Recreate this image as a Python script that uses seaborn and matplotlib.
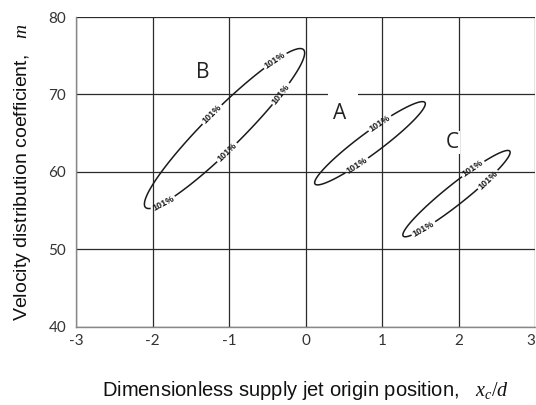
import numpy as np
import matplotlib
matplotlib.use("Agg")
import matplotlib.pyplot as plt
from matplotlib.patches import Rectangle
import seaborn as sns

# ellipse regions (101% contour) in (x_c/d, m)
region_names = ['A', 'B', 'C']
centre_x = [0.84, -1.06, 1.97]
centre_m = [63.7, 65.6, 57.2]
half_length = [0.89, 1.45, 0.886]
half_width = [0.14, 0.245, 0.13]
tilt_deg = [36.2, 44.6, 38.2]

# where the region letters sit
name_x = [0.44, -1.34, 1.91]
name_m = [67.6, 72.9, 63.8]

# where the "101%" labels sit on each contour
label_pos = {
    'A': [(0.94, 66.7), (0.68, 60.65)],
    'B': [(-0.38, 74.1), (-0.30, 69.9), (-1.19, 67.1), (-1.02, 62.45), (-1.87, 56.1)],
    'C': [(2.18, 60.5), (2.38, 59.0), (1.55, 52.5)],
}
contour_text = '101%'

x_ticks = [-3, -2, -1, 0, 1, 2, 3]
m_ticks = [40, 50, 60, 70, 80]

sns.set_theme(style="white")
plt.rcParams['font.family'] = ['Liberation Sans', 'DejaVu Sans']
plt.rcParams['mathtext.fontset'] = 'custom'
plt.rcParams['mathtext.it'] = 'Liberation Serif:italic'
plt.rcParams['mathtext.rm'] = 'Liberation Serif'

fig = plt.figure(figsize=(5.36, 4.05), dpi=100)
ax = fig.add_axes([0.1418, 0.193, 0.857, 0.765])

gx = np.linspace(-3, 3, 700)
gm = np.linspace(40, 80, 500)
X, M = np.meshgrid(gx, gm)

for i, name in enumerate(region_names):
    t = np.radians(tilt_deg[i])
    dx = X - centre_x[i]
    dy = (M - centre_m[i]) / 10.0
    u = dx * np.cos(t) + dy * np.sin(t)
    v = -dx * np.sin(t) + dy * np.cos(t)
    Z = (u / half_length[i]) ** 2 + (v / half_width[i]) ** 2
    cs = ax.contour(X, M, Z, levels=[1.0], colors='#1a1a1a', linewidths=1.1)
    lbls = ax.clabel(cs, fmt={1.0: contour_text}, manual=label_pos[name], inline=True,
                     inline_spacing=2, fontsize=6.5, colors='#1a1a1a')
    for lb in lbls:
        lb.set_fontweight('bold')
    ax.text(name_x[i], name_m[i], name, fontsize=15, color='#222222', ha='center', va='center',
            family='Open Sans', bbox=dict(facecolor='white', edgecolor='none', pad=1))

# small blank in the 70 grid line left of "A", as in the source figure
ax.add_patch(Rectangle((0.29, 69.5), 0.39, 1.0, facecolor='white', edgecolor='none', zorder=1.5))

ax.set_xlim(-3, 3)
ax.set_ylim(40, 80)
ax.set_xticks(x_ticks)
ax.set_yticks(m_ticks)
ax.set_xticklabels([f"{v}" for v in x_ticks], family='Lato', fontsize=11, color='#333333')
ax.set_yticklabels([f"{v}" for v in m_ticks], family='Lato', fontsize=11, color='#333333')
ax.get_xticklabels()[-1].set_ha('right')
ax.grid(True, color='#2a2a2a', linewidth=0.9)
ax.set_axisbelow(True)
ax.tick_params(axis='both', length=3, width=0.8, color='#777777', pad=4, direction='out')
ax.tick_params(axis='x', pad=2.5)
sns.despine(ax=ax, top=True, right=True)
for s in ['left', 'bottom']:
    ax.spines[s].set_color('#888888')
    ax.spines[s].set_linewidth(1.0)

ax.set_xlabel('Dimensionless supply jet origin position,   $x_c/d$', fontsize=14.5,
              color='#111111', labelpad=22)
ax.set_ylabel('Velocity distribution coefficient,   $m$', fontsize=14,
              color='#111111', labelpad=11)

fig.savefig('out.png', dpi=100)
